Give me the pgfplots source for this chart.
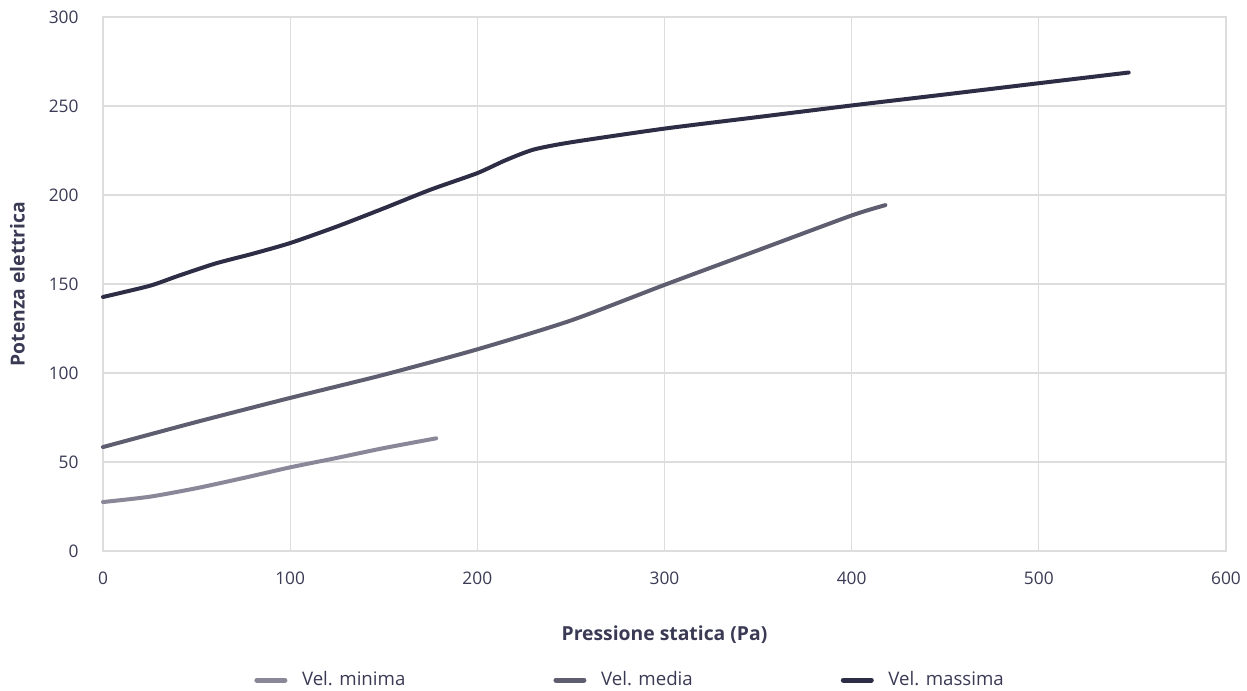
\documentclass[border=0pt]{standalone}
\usepackage{fontspec}
\setmainfont{Open Sans}
\usepackage{pgfplots}
\pgfplotsset{compat=1.18}
\definecolor{cmin}{HTML}{8A8898}
\definecolor{cmed}{HTML}{5E5E70}
\definecolor{cmax}{HTML}{2D2D45}
\definecolor{txt}{HTML}{3A3A55}
\definecolor{grd}{HTML}{DDDDDD}
\begin{document}
\fontsize{12.5}{15}\selectfont
\begin{tikzpicture}[x=0.75pt,y=0.75pt]
\begin{axis}[
  scale only axis,
  width=842.25pt, height=400.5pt,
  xmin=0, xmax=600, ymin=0, ymax=300,
  xtick={0,100,...,600}, ytick={0,50,...,300},
  grid=major,
  grid style={grd, line width=0.9pt},
  axis line style={grd, line width=1.2pt},
  major tick length=0pt,
  tick label style={text=txt, font=\fontsize{13}{15}\selectfont},
  /pgf/number format/assume math mode=true,
  xticklabel style={yshift=-11pt},
  yticklabel style={xshift=-14pt},
  xlabel={\bfseries Pressione statica (Pa)},
  ylabel={\bfseries Potenza elettrica},
  label style={text=txt, font=\fontsize{14.5}{17}\selectfont},
  xlabel style={yshift=-23pt},
  ylabel style={yshift=9.5pt},
  legend style={draw=none, fill=none, at={(0.131,-0.2416)}, anchor=west,
    font=\fontsize{14}{16}\selectfont, text=txt,
    /tikz/every odd column/.append style={column sep=9pt},
    /tikz/every even column/.append style={column sep=109pt}},
  legend columns=3,
  legend image code/.code={\draw[#1, line width=3.75pt, line cap=round] (1.9pt,0pt) -- (22.9pt,0pt);},
  clip=false,
  every axis plot/.append style={line width=3pt, line cap=round, line join=round, smooth, tension=0.4},
]
\addplot[cmin] coordinates {(0,27.5) (25,30.5) (50,35.3) (75,41) (100,47) (125,52.3) (150,57.8) (178,63.3)};
\addlegendentry{Vel. minima}
\addplot[cmed] coordinates {(0,58.4) (50,72.5) (100,86) (150,99) (200,113.3) (250,129.5) (300,149.5) (350,169) (400,188.5) (418,194.3)};
\addlegendentry{Vel. media}
\addplot[cmax] coordinates {(0,142.7) (25,149) (40,154.5) (60,161.5) (80,167) (100,173) (125,182.3) (150,192.5) (175,203) (200,212.3) (215,219.5) (230,225.5) (250,229.6) (300,237.3) (350,243.8) (400,250.3) (450,256.5) (500,262.8) (548,268.8)};
\addlegendentry{Vel. massima}
\coordinate (sw) at (rel axis cs:0,0);
\coordinate (ne) at (rel axis cs:1,1);
\end{axis}
\pgfresetboundingbox
\path ([xshift=-77.25pt,yshift=-105pt]sw) rectangle ([xshift=15.75pt,yshift=12.75pt]ne);
\end{tikzpicture}
\end{document}
